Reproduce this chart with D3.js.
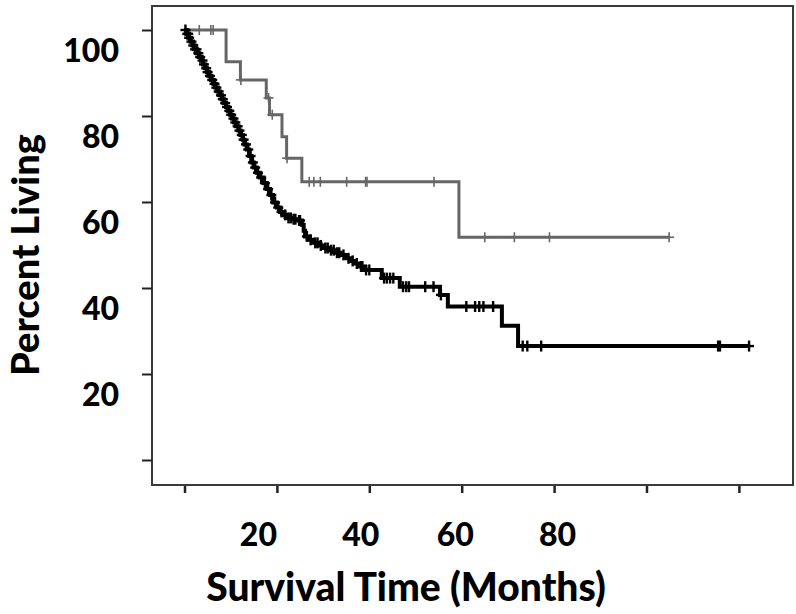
<!DOCTYPE html>
<html>
<head>
<meta charset="utf-8">
<script src="https://cdn.jsdelivr.net/npm/d3@7/dist/d3.min.js"></script>
<style>
  html, body { margin: 0; padding: 0; background: #fff; }
  svg { display: block; }
</style>
</head>
<body>
<svg id="chart" width="796" height="614"></svg>
<script>
// ---------------- DATA ----------------
const xTickValues = [0, 20, 40, 60, 80, 100, 120];
const xTickLabels = ["", "20", "40", "60", "80", "", ""];
const yTickValues = [0, 20, 40, 60, 80, 100];
const yTickLabels = ["", "20", "40", "60", "80", "100"];
const xTitle = "Survival Time (Months)";
const yTitle = "Percent Living";

// Group A (gray, small group): step times (months) and survival (%)
const grayTimes    = [0, 9.0, 12.1, 17.7, 18.4, 21.1, 22.1, 25.4, 59.4];
const graySurvival = [100, 92.6, 88.4, 84.2, 80.3, 75.2, 70.2, 64.7, 51.8];
const grayEnd = 104.9;
const grayCensored = [3.2, 5.7, 6.2, 12.2, 18.2, 19.0, 22.2, 27.0, 28.0, 29.4, 35.1, 39.2, 39.5, 54.0, 65.0, 71.4, 79.0, 104.9];

// Group B (black, large group)
const blackTimes = [0, 0.4, 0.9, 1.3, 1.8, 2.2, 2.7, 3.1, 3.6, 4.0, 4.5, 4.9, 5.4, 5.8, 6.3, 6.7, 7.2, 7.6, 8.1, 8.5,
  9.0, 9.4, 9.9, 10.3, 10.8, 11.2, 11.7, 12.1, 12.6, 13.0, 13.5, 14.0, 14.5, 15.0, 15.6, 16.3, 17.1, 17.8, 18.5, 19.2,
  20.0, 20.7, 21.4, 22.1, 23.2, 24.3, 25.4, 25.8, 26.1, 27.0, 27.8, 29.0, 30.0, 31.2, 32.8, 33.7, 35.1, 36.0, 36.9, 37.8,
  38.7, 42.7, 46.6, 55.3, 57.0, 68.7, 72.2];
const blackSurvival = [100, 99.1, 98.2, 97.3, 96.4, 95.5, 94.6, 93.7, 92.9, 92.0, 91.1, 90.2, 89.3, 88.4, 87.5, 86.6, 85.7, 84.8, 83.9, 83.0,
  82.1, 81.2, 80.3, 79.4, 78.5, 77.6, 76.6, 75.6, 74.5, 73.4, 72.2, 70.7, 69.2, 68.0, 66.8, 65.7, 64.4, 63.0, 61.6, 59.9,
  58.7, 57.7, 57.0, 56.3, 56.0, 55.7, 54.7, 53.3, 52.0, 51.2, 50.5, 49.9, 49.3, 48.8, 48.2, 47.7, 46.9, 46.3, 45.7, 45.0,
  44.2, 42.3, 40.3, 38.4, 35.7, 31.2, 26.5];
const blackEnd = 122.2;
const blackCensored = [0.2, 0.6, 0.8, 1.0, 1.5, 1.9, 2.3, 2.6, 3.0, 3.4, 3.9, 4.2, 4.7, 5.0, 5.5, 6.0, 6.5, 6.9, 7.4, 7.9,
  8.3, 8.8, 9.2, 9.7, 10.1, 10.6, 11.0, 11.5, 11.9, 12.4, 12.8, 13.3, 13.8, 14.3, 14.8, 15.3, 15.9, 16.6, 17.4, 18.1,
  18.8, 19.6, 20.3, 21.0, 21.8, 22.5, 23.0, 23.6, 24.0, 24.8, 25.0, 26.5, 27.3, 28.3, 28.8, 29.5, 30.5, 31.0, 31.7, 32.3,
  33.0, 33.5, 34.4, 35.5, 36.4, 37.3, 38.2, 38.5, 39.3, 40.0, 43.2, 43.8, 44.5, 45.2, 47.3, 48.0, 48.6, 52.1, 53.9, 55.5,
  61.0, 62.9, 63.8, 64.7, 66.8, 73.2, 74.2, 77.2, 115.5, 115.9, 122.2];

// ---------------- LAYOUT ----------------
const frame = { left: 152, top: 6, right: 793, bottom: 485 };
const xRange = [184.5, 738.9];
const yRange = [460, 30];
const xLabelOffsets = [0, -19, -9, -7, 3, 0, 0];
const yLabelShift = 20;
const fontFam = "Lato, 'Open Sans', sans-serif";

const svg = d3.select("#chart");
const x = d3.scaleLinear().domain([0, 120]).range(xRange);
const y = d3.scaleLinear().domain([0, 100]).range(yRange);

// frame
svg.append("rect")
  .attr("x", frame.left).attr("y", frame.top)
  .attr("width", frame.right - frame.left).attr("height", frame.bottom - frame.top)
  .attr("fill", "none").attr("stroke", "#3a3a3a").attr("stroke-width", 2);

// y axis
const yAxis = svg.append("g")
  .attr("transform", `translate(${frame.left},0)`)
  .call(d3.axisLeft(y).tickValues(yTickValues).tickSize(10).tickPadding(23)
    .tickFormat((d, i) => yTickLabels[i]));
yAxis.select(".domain").remove();
yAxis.selectAll(".tick line").attr("stroke", "#222").attr("stroke-width", 2);
yAxis.selectAll(".tick text")
  .attr("font-family", fontFam).attr("font-weight", 900)
  .attr("font-size", 32).attr("fill", "#000")
  .attr("dy", "0.36em")
  .attr("transform", `translate(0,${yLabelShift})`);

// x axis
const xAxis = svg.append("g")
  .attr("transform", `translate(0,${frame.bottom + 1})`)
  .call(d3.axisBottom(x).tickValues(xTickValues).tickSize(7).tickPadding(30)
    .tickFormat((d, i) => xTickLabels[i]));
xAxis.select(".domain").remove();
xAxis.selectAll(".tick line").attr("stroke", "#222").attr("stroke-width", 2.5);
xAxis.selectAll(".tick text")
  .attr("font-family", fontFam).attr("font-weight", 900)
  .attr("font-size", 32).attr("fill", "#000")
  .attr("dy", "0.71em")
  .attr("transform", (d, i) => `translate(${xLabelOffsets[i]},0)`);

// titles
svg.append("text")
  .attr("x", 406).attr("y", 601)
  .attr("text-anchor", "middle")
  .attr("font-family", fontFam).attr("font-weight", 900)
  .attr("font-size", 39).attr("fill", "#000")
  .text(xTitle);
svg.append("text")
  .attr("transform", "translate(39,255) rotate(-90)")
  .attr("text-anchor", "middle")
  .attr("font-family", fontFam).attr("font-weight", 900)
  .attr("font-size", 38).attr("fill", "#000")
  .text(yTitle);

// curves
function stepPoints(times, surv, end) {
  const pts = times.map((t, i) => [t, surv[i]]);
  pts.push([end, surv[surv.length - 1]]);
  return pts;
}
function survAt(times, surv, t) {
  const i = d3.bisectRight(times, t) - 1;
  return surv[Math.max(0, i)];
}
const line = d3.line().x(d => x(d[0])).y(d => y(d[1])).curve(d3.curveStepAfter);

function drawGroup(times, surv, end, cens, color, width, markW, markH) {
  const g = svg.append("g");
  g.append("path")
    .datum(stepPoints(times, surv, end))
    .attr("d", line)
    .attr("fill", "none").attr("stroke", color).attr("stroke-width", width)
    .attr("stroke-linejoin", "miter");
  const marks = g.selectAll("g.cens").data(cens).enter().append("g")
    .attr("transform", t => `translate(${x(t)},${y(survAt(times, surv, t))})`);
  marks.append("line").attr("x1", 0).attr("x2", 0).attr("y1", -markH).attr("y2", markH)
    .attr("stroke", color).attr("stroke-width", markW);
  marks.append("line").attr("x1", -5).attr("x2", 5).attr("y1", 0).attr("y2", 0)
    .attr("stroke", color).attr("stroke-width", markW);
}

drawGroup(grayTimes, graySurvival, grayEnd, grayCensored, "#666", 3, 1.6, 5);
drawGroup(blackTimes, blackSurvival, blackEnd, blackCensored, "#000", 4, 2.4, 5.5);
</script>
</body>
</html>
